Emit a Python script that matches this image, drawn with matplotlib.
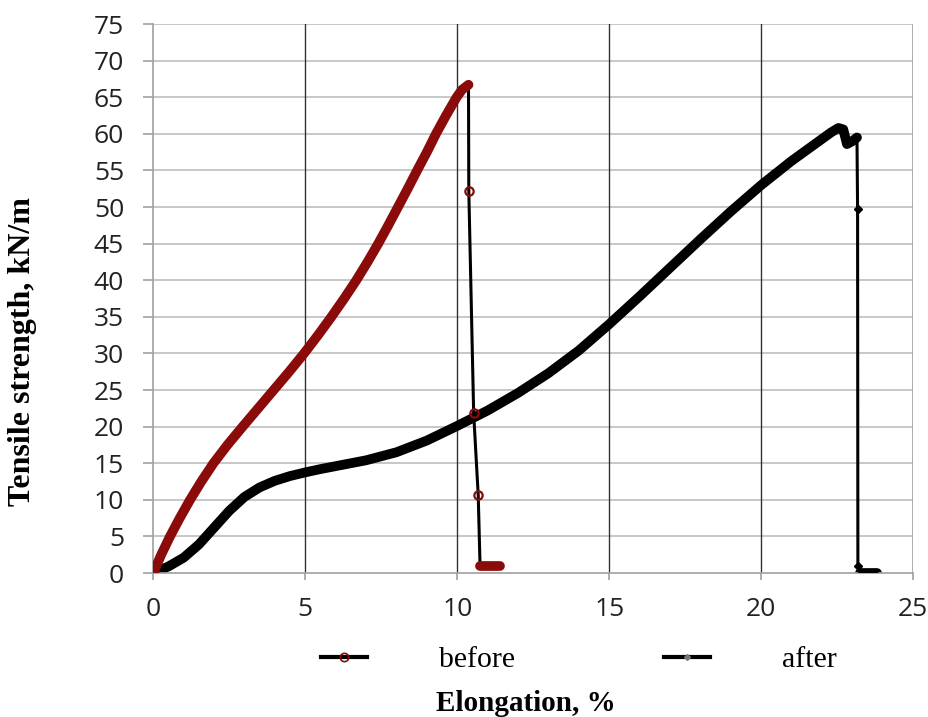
import matplotlib.pyplot as plt
from matplotlib.lines import Line2D

# Before: rising part (0-27), drop points (28-30), tail (31-32)
before_x = [0, 0.26, 0.55, 0.87, 1.21, 1.58, 1.98, 2.44, 2.94, 3.45, 3.96, 4.47, 4.96, 5.42,
            5.86, 6.28, 6.68, 7.05, 7.4, 7.73, 8.05, 8.37, 8.68, 9.0, 9.3, 9.63, 9.98, 10.15,
            10.37,
            10.38, 10.54, 10.69,
            10.75, 11.4]
before_y = [0, 2.5, 5.0, 7.5, 10.0, 12.5, 15.0, 17.5, 20.0, 22.5, 25.0, 27.5, 30.0, 32.5,
            35.0, 37.5, 40.0, 42.5, 45.0, 47.5, 50.0, 52.5, 55.0, 57.5, 60.0, 62.5, 65.0, 66.0,
            66.7,
            52.2, 21.8, 10.6,
            1.0, 1.0]

# After: rising part (0-34), drop points (35-36), tail (37-38)
after_x = [0, 0.5, 1.0, 1.5, 2.0, 2.5, 3.0, 3.5, 4.0, 4.5, 5.0, 5.5, 6.0, 7.0, 8.0, 9.0, 10.0,
           11.0, 12.0, 13.0, 14.0, 15.0, 16.0, 17.0, 18.0, 19.0, 20.0, 21.0, 22.0, 22.3, 22.54,
           22.7, 22.82, 23.0, 23.15,
           23.17, 23.18,
           23.25, 23.8]
after_y = [0, 0.9, 2.1, 3.9, 6.2, 8.5, 10.4, 11.7, 12.6, 13.25, 13.75, 14.2, 14.6, 15.4, 16.5,
           18.1, 20.1, 22.2, 24.6, 27.3, 30.4, 34.0, 37.8, 41.7, 45.6, 49.4, 53.0, 56.3, 59.3,
           60.2, 60.8, 60.6, 58.6, 59.0, 59.5,
           49.7, 1.0,
           0.0, 0.0]

labels = ['before', 'after']
red = '#8B0A0A'

fig = plt.figure(figsize=(9.29, 7.17), dpi=100)
ax = fig.add_axes([0.165, 0.2008, 0.818, 0.7657])

# thin black connecting lines
ax.plot(before_x, before_y, color='black', lw=2.2, zorder=3)
ax.plot(after_x, after_y, color='black', lw=2.2, zorder=3)

# dense parts of each curve
ax.plot(before_x[:29], before_y[:29], color=red, lw=7, solid_capstyle='round',
        solid_joinstyle='round', zorder=4)
ax.plot(before_x[32:], before_y[32:], color=red, lw=7, solid_capstyle='round', zorder=4)
ax.plot(after_x[:35], after_y[:35], color='black', lw=7, solid_capstyle='round',
        solid_joinstyle='round', zorder=2)
ax.plot(after_x[37:], after_y[37:], color='black', lw=7, solid_capstyle='round', zorder=2)

# sparse markers on the drops
ax.plot(before_x[29:32], before_y[29:32], ls='none', marker='o', ms=6, mfc='none',
        mec=red, mew=1.6, zorder=5)
ax.plot(after_x[35:37], after_y[35:37], ls='none', marker='D', ms=4, color='black', zorder=5)

ax.set_xlim(0, 25)
ax.set_ylim(0, 75)
ax.set_xticks(range(0, 26, 5))
ax.set_yticks(range(0, 76, 5))

for v in range(5, 76, 5):
    ax.axhline(v, color='#BDBDBD', lw=1.2, zorder=1)
for v in range(5, 25, 5):
    ax.axvline(v, color='#333333', lw=1.0, zorder=1)
ax.axvline(25, color='#A0A0A0', lw=1.2, zorder=1)

for s in ['top', 'right']:
    ax.spines[s].set_visible(False)
for s in ['left', 'bottom']:
    ax.spines[s].set_color('#A0A0A0')
    ax.spines[s].set_linewidth(1.2)

ax.tick_params(axis='y', length=7, width=1.2, color='#A0A0A0', pad=14,
               labelsize=19, labelcolor='#222222')
ax.tick_params(axis='x', length=5, width=1.2, color='#A0A0A0', pad=12,
               labelsize=19, labelcolor='#222222')
for t in ax.get_xticklabels() + ax.get_yticklabels():
    t.set_fontfamily('Open Sans')

fig.text(0.024, 0.509, 'Tensile strength, kN/m', fontfamily='Liberation Serif',
         fontweight='bold', fontsize=23, rotation=90, ha='center', va='center')
fig.text(0.566, 0.0195, 'Elongation, %', fontfamily='Liberation Serif', fontweight='bold',
         fontsize=21, ha='center', va='center')

handles = [
    Line2D([], [], color='black', lw=3, marker='o', ms=6, mfc='none', mec=red, mew=1.2),
    Line2D([], [], color='black', lw=3, marker='D', ms=3, mfc='#777777', mec='#777777'),
]
fig.legend(handles, labels, loc='center', bbox_to_anchor=(0.623, 0.0795), ncol=2,
           frameon=False, prop={'family': 'Liberation Serif', 'size': 21.5},
           handlelength=1.55, handletextpad=2.4, columnspacing=5.0)

fig.savefig('out.png', dpi=100)
